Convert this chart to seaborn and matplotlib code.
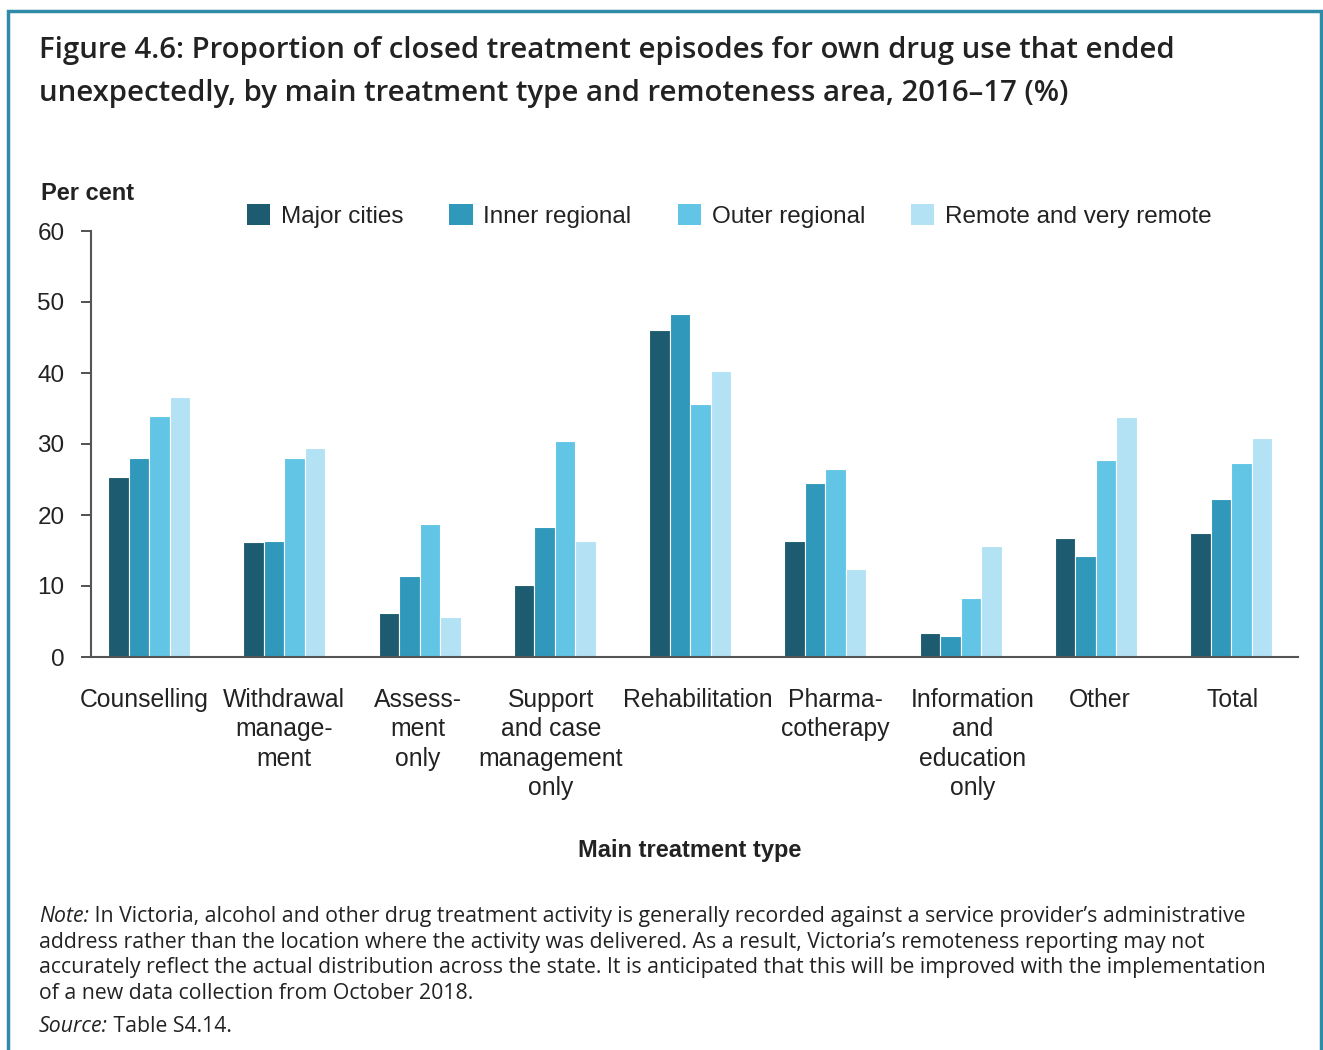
import pandas as pd
import matplotlib
matplotlib.use('Agg')
import matplotlib.pyplot as plt
import matplotlib.transforms as mtransforms
import seaborn as sns
from matplotlib.patches import Rectangle, Patch

# data (per cent)
categories = ['Counselling', 'Withdrawal\nmanage-\nment', 'Assess-\nment\nonly',
              'Support\nand case\nmanagement\nonly', 'Rehabilitation', 'Pharma-\ncotherapy',
              'Information\nand\neducation\nonly', 'Other', 'Total']
areas = ['Major cities', 'Inner regional', 'Outer regional', 'Remote and very remote']
major_cities = [25.4, 16.2, 6.2, 10.1, 46.0, 16.3, 3.4, 16.7, 17.4]
inner_regional = [28.0, 16.4, 11.4, 18.3, 48.3, 24.5, 2.9, 14.2, 22.3]
outer_regional = [33.9, 28.0, 18.8, 30.4, 35.6, 26.5, 8.3, 27.7, 27.3]
remote = [36.6, 29.5, 5.6, 16.4, 40.3, 12.4, 15.6, 33.8, 30.8]
colours = ['#1d5b70', '#3098ba', '#62c5e6', '#b3e2f4']

# small horizontal nudges of the category labels (pixels), as in the original
label_nudge = [-4.5, 0, -2, -4, 8, 10, 12, 4, 1.5]

note_lines = [
    'address rather than the location where the activity was delivered. As a result, Victoria\u2019s remoteness reporting may not',
    'accurately reflect the actual distribution across the state. It is anticipated that this will be improved with the implementation',
    'of a new data collection from October 2018.',
]

df = pd.DataFrame({'Major cities': major_cities, 'Inner regional': inner_regional,
                   'Outer regional': outer_regional, 'Remote and very remote': remote},
                  index=categories)
long = df.reset_index(names='Type').melt(id_vars='Type', var_name='Area', value_name='Pct')

sns.set_style('white')
plt.rcParams['font.family'] = ['Liberation Sans', 'DejaVu Sans']

fig = plt.figure(figsize=(13.23, 10.5), dpi=100)
ax = fig.add_axes([91 / 1323, 1 - 657 / 1050, 1207 / 1323, 426 / 1050])

sns.barplot(data=long, x='Type', y='Pct', hue='Area', hue_order=areas, palette=colours,
            order=categories, width=0.606, gap=0, edgecolor='white', linewidth=0.8,
            saturation=1, legend=False, ax=ax)

ax.set_ylim(0, 60)
ax.set_xlim(-0.43, 8.495)
ax.set_yticks(range(0, 61, 10))
ax.set_xlabel('')
ax.set_ylabel('')
sns.despine(ax=ax, top=True, right=True)
for s in ['left', 'bottom']:
    ax.spines[s].set_color('#555555')
    ax.spines[s].set_linewidth(1.5)
ax.tick_params(axis='y', length=7, width=1.2, color='#333333', labelsize=17.5,
               labelcolor='#222222', pad=12, left=True)
ax.tick_params(axis='x', length=0, labelsize=17.8, labelcolor='#222222', pad=22.5)
for lab, dx in zip(ax.get_xticklabels(), label_nudge):
    lab.set_verticalalignment('top')
    lab.set_linespacing(1.27)
    lab.set_transform(lab.get_transform() +
                      mtransforms.ScaledTranslation(dx / 100, 0, fig.dpi_scale_trans))

# legend across the top
handles = [Patch(facecolor=c, edgecolor='none') for c in colours]
fig.legend(handles, areas, loc='center left', bbox_to_anchor=(237 / 1323, 1 - 216 / 1050),
           ncol=4, frameon=False, fontsize=17.5, handlelength=0.95, handleheight=0.95,
           handletextpad=0.45, columnspacing=1.9, borderaxespad=0, labelcolor='#222222')

fig.text(41 / 1323, 1 - 193 / 1050, 'Per cent', fontsize=17, fontweight='bold',
         va='center', ha='left', color='#222222')
fig.text(690 / 1323, 1 - 850 / 1050, 'Main treatment type', fontsize=17, fontweight='bold',
         va='center', ha='center', color='#222222')

# title
fig.text(39 / 1323, 1 - 72 / 1050,
         'Figure 4.6: Proportion of closed treatment episodes for own drug use that ended\n'
         'unexpectedly, by main treatment type and remoteness area, 2016\u201317 (%)',
         fontsize=21.2, fontweight='semibold', family='Open Sans', va='center', ha='left',
         color='#222222', linespacing=1.61)

# note and source
fig.canvas.draw()
renderer = fig.canvas.get_renderer()
fs = 15.3
note_y = 1 - 916.5 / 1050
t = fig.text(39 / 1323, note_y, 'Note:', fontsize=fs, style='italic', family='Open Sans',
             va='center', ha='left', color='#222222')
w = t.get_window_extent(renderer).width / fig.bbox.width
fig.text(39 / 1323 + w, note_y,
         ' In Victoria, alcohol and other drug treatment activity is generally recorded against a service provider\u2019s administrative',
         fontsize=fs, family='Open Sans', va='center', ha='left', color='#222222')
for line, ypx in zip(note_lines, [942.5, 968, 993.5]):
    fig.text(39 / 1323, 1 - ypx / 1050, line, fontsize=fs, family='Open Sans',
             va='center', ha='left', color='#222222')
src_y = 1 - 1026 / 1050
t2 = fig.text(39 / 1323, src_y, 'Source:', fontsize=fs, style='italic', family='Open Sans',
              va='center', ha='left', color='#222222')
w2 = t2.get_window_extent(renderer).width / fig.bbox.width
fig.text(39 / 1323 + w2, src_y, ' Table S4.14.', fontsize=fs, family='Open Sans',
         va='center', ha='left', color='#222222')

# frame
fig.patches.append(Rectangle((8 / 1323, -0.05), 1313 / 1323, 1.05 - 11 / 1050,
                             transform=fig.transFigure, fill=False,
                             edgecolor='#2f8ba8', linewidth=2.5))

fig.savefig('out.png', dpi=100)
